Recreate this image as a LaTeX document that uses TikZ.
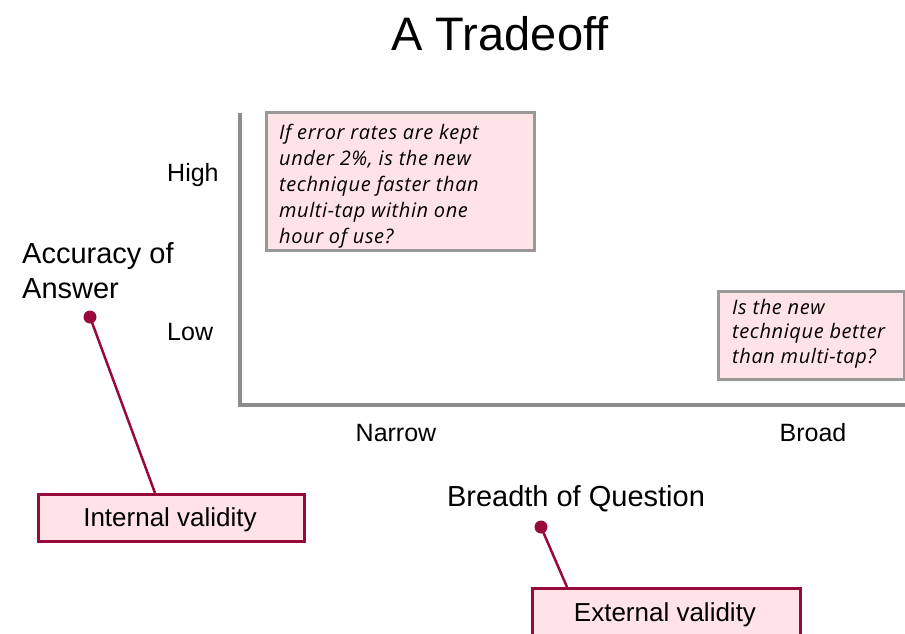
\documentclass[tikz,border=0pt]{standalone}
\usepackage{fontspec}
\setmainfont{Liberation Sans}
\newfontfamily\boxfont{Open Sans}[LetterSpace=3]
\definecolor{dred}{HTML}{990A3C}
\definecolor{pinkfill}{HTML}{FFE3E6}
\definecolor{axisgray}{HTML}{8C8C8C}
\definecolor{boxgray}{HTML}{999999}
\tikzset{
  lbl/.style={inner sep=0pt, anchor=base, font=\fontsize{25}{30}\selectfont},
  qbox/.style={draw=boxgray, line width=3pt, fill=pinkfill, anchor=north west, inner sep=0pt},
  qtxt/.style={inner sep=0pt, anchor=base west, font=\boxfont\itshape\fontsize{20}{25}\selectfont},
  vbox/.style={draw=dred, line width=2.5pt, fill=pinkfill, minimum height=47pt, inner sep=0pt, anchor=north west},
  vtxt/.style={lbl, font=\fontsize{26}{30}\selectfont},
  pin/.style={draw=dred, line width=2.5pt},
  dot/.style={circle, fill=dred, minimum size=13pt, inner sep=0pt},
}
\begin{document}
\begin{tikzpicture}[x=1pt,y=-1pt]
\useasboundingbox (0,0) rectangle (905,633);
% title
\node[lbl, font=\fontsize{47}{52}\selectfont] (title) at (500,50) {A Tradeoff};
% axes
\coordinate (top) at (240,113);
\coordinate (origin) at (240,405);
\coordinate (right) at (905,405);
\draw[axisgray, line width=4pt] (top) -- (origin) -- (right);
% axis labels
\node[lbl, anchor=base west] (high) at (167,181) {High};
\node[lbl, anchor=base west] (low) at (167,340) {Low};
\node[lbl, anchor=base west, font=\fontsize{29}{35}\selectfont] (acc) at (22,263) {Accuracy of};
\node[lbl, anchor=base west, font=\fontsize{29}{35}\selectfont] (ans) at (22,298) {Answer};
\node[lbl] (narrow) at (396,441) {Narrow};
\node[lbl] (broad) at (813,441) {Broad};
\node[lbl, font=\fontsize{29}{35}\selectfont] (breadth) at (576,506) {Breadth of Question};
% question boxes
\node[qbox, minimum width=268pt, minimum height=138pt] (q1) at (265,111) {};
\foreach \t [count=\i from 0] in {If error rates are kept,{under 2\%, is the new},technique faster than,multi-tap within one,hour of use?}
  \node[qtxt] (q1l\i) at (279,139+26*\i) {\t};
\node[qbox, minimum width=186pt, minimum height=88pt] (q2) at (717,290) {};
\foreach \t [count=\i from 0] in {Is the new,technique better,than multi-tap?}
  \node[qtxt] (q2l\i) at (732,314+24.5*\i) {\t};
% validity boxes
\node[vbox, minimum width=266pt] (internal) at (37,493) {};
\node[vtxt] (intlbl) at (170,526) {Internal validity};
\node[vbox, minimum width=268pt] (external) at (531,587) {};
\node[vtxt] (extlbl) at (665,621) {External validity};
% pins
\node[dot] (d1) at (90,317) {};
\node[dot] (d2) at (541,527) {};
\coordinate (p1) at (155,493);
\coordinate (p2) at (567,587);
\draw[pin] (d1.center) -- (p1);
\draw[pin] (d2.center) -- (p2);
\end{tikzpicture}
\end{document}
